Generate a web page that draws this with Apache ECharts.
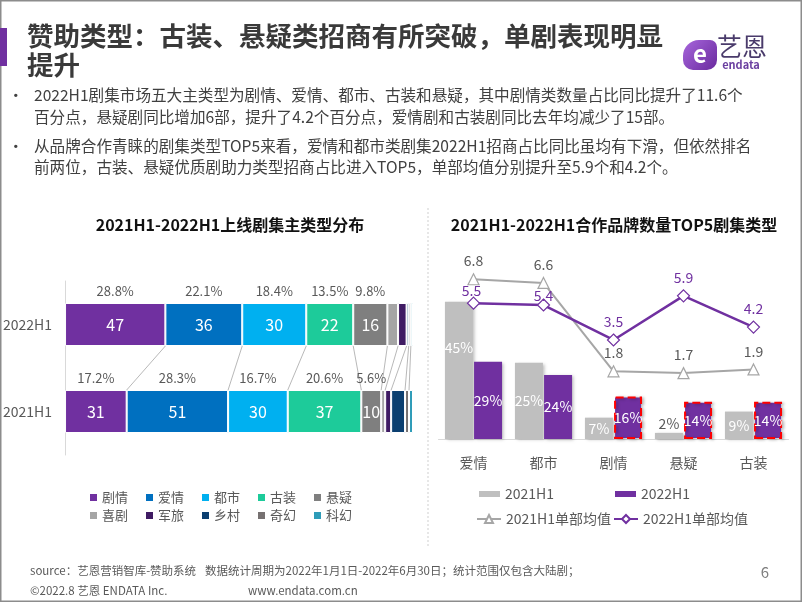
<!DOCTYPE html>
<html><head><meta charset="utf-8">
<script src="https://cdn.jsdelivr.net/npm/echarts@6/dist/echarts.min.js"></script>
<style>html,body{margin:0;padding:0;background:#fff}#c{width:802px;height:602px}</style>
</head><body><div id="c"></div>
<script>
const FONT = '"Noto Sans CJK SC", "Noto Sans", sans-serif';

// ---- Left chart data: series counts per genre ----
const yearCategories = ['2021H1', '2022H1'];
const genres = ['剧情', '爱情', '都市', '古装', '悬疑', '喜剧', '军旅', '乡村', '奇幻', '科幻'];
const counts2021 = [31, 51, 30, 37, 10, 2, 3, 7, 2, 2];
const counts2022 = [47, 36, 30, 22, 16, 5, 4, 1, 1, 1];
const shareLabels2021 = ['17.2%', '28.3%', '16.7%', '20.6%', '5.6%'];
const shareLabels2022 = ['28.8%', '22.1%', '18.4%', '13.5%', '9.8%'];

// ---- Right chart data ----
const topGenres = ['爱情', '都市', '剧情', '悬疑', '古装'];
const brandShare2021 = [45, 25, 7, 2, 9];
const brandShare2022 = [29, 24, 16, 14, 14];
const avgPerShow2021 = [6.8, 6.6, 1.8, 1.7, 1.9];
const avgPerShow2022 = [5.5, 5.4, 3.5, 5.9, 4.2];
const highlightedGenres = ['剧情', '悬疑', '古装'];

const genreColors = ['#7030A0', '#0070C0', '#00B0F0', '#1DCB9A', '#7F7F7F',
                     '#A5A5A5', '#3F1B63', '#0B3F70', '#767171', '#2E9CB8'];

const sum = a => a.reduce((s, v) => s + v, 0);
const total2021 = sum(counts2021), total2022 = sum(counts2022);
const pct = (v, t) => v / t * 100;
const cumulative = (arr, t) => { let s = 0; return arr.map(v => (s += v, s / t * 100)); };
const cum2021 = cumulative(counts2021, total2021);
const cum2022 = cumulative(counts2022, total2022);
const BAR_H = 43;

const stackSeries = genres.map((g, i) => ({
  name: g, type: 'bar', stack: 'share', xAxisIndex: 0, yAxisIndex: 0, barWidth: BAR_H,
  itemStyle: { color: genreColors[i], borderColor: '#fff', borderWidth: 1 },
  label: {
    show: i < 5, position: 'inside', color: '#fff', fontSize: 16, fontFamily: FONT,
    formatter: p => String(p.dataIndex === 0 ? counts2021[i] : counts2022[i])
  },
  emphasis: { disabled: true },
  data: [pct(counts2021[i], total2021), pct(counts2022[i], total2022)]
}));

const connectorData = genres.slice(0, -1).map((g, i) => [cum2022[i], 0, cum2021[i]]);
const connectorSeries = {
  type: 'custom', xAxisIndex: 0, yAxisIndex: 0, silent: true, z: 1,
  encode: { x: 0, y: 1 },
  renderItem: (params, api) => {
    const a = api.coord([api.value(0), 1]);
    const b = api.coord([api.value(2), 0]);
    return { type: 'line', shape: { x1: a[0], y1: a[1] + BAR_H / 2, x2: b[0], y2: b[1] - BAR_H / 2 },
             style: { stroke: '#a6a6a6', lineWidth: 0.8 } };
  },
  data: connectorData
};

const shareLabelData = [];
for (let i = 0; i < shareLabels2021.length; i++) {
  shareLabelData.push([cum2021[i] - pct(counts2021[i], total2021) / 2, 0, i]);
  shareLabelData.push([cum2022[i] - pct(counts2022[i], total2022) / 2, 1, i]);
}
const shareLabelSeries = {
  type: 'custom', xAxisIndex: 0, yAxisIndex: 0, silent: true, z: 3,
  encode: { x: 0, y: 1 },
  renderItem: (params, api) => {
    const yr = api.value(1), i = api.value(2);
    const p = api.coord([api.value(0), yr]);
    return { type: 'text', x: p[0], y: p[1] - BAR_H / 2 - 12,
      style: { text: yr === 1 ? shareLabels2022[i] : shareLabels2021[i], fill: '#595959',
               font: '13px ' + FONT, align: 'center', verticalAlign: 'middle' } };
  },
  data: shareLabelData
};

const barShadow = { shadowColor: 'rgba(0,0,0,0.25)', shadowBlur: 3, shadowOffsetX: 2, shadowOffsetY: 1 };

const series2021 = {
  name: '2021H1', type: 'bar', xAxisIndex: 1, yAxisIndex: 1, barWidth: 28, barGap: '4%',
  itemStyle: Object.assign({ color: '#BFBFBF' }, barShadow),
  emphasis: { disabled: true },
  data: brandShare2021.map((v, i) => ({
    value: v,
    label: v < 4 ? { position: 'top', distance: 2, color: '#595959' }
                 : (i === 0 ? { offset: [0, -23] } : {})
  })),
  label: { show: true, position: 'inside', color: '#fff', fontSize: 14, fontFamily: FONT, formatter: '{c}%' }
};
const series2022 = {
  name: '2022H1', type: 'bar', xAxisIndex: 1, yAxisIndex: 2, barWidth: 28,
  itemStyle: Object.assign({ color: '#7030A0' }, barShadow),
  emphasis: { disabled: true },
  data: brandShare2022.map((v, i) => ({
    value: v,
    itemStyle: highlightedGenres.includes(topGenres[i])
      ? { borderColor: '#FF0000', borderType: 'dashed', borderWidth: 2 } : {}
  })),
  label: { show: true, position: 'inside', color: '#fff', fontSize: 14, fontFamily: FONT, formatter: '{c}%' }
};
const lineAvg2021 = {
  name: '2021H1单部均值', type: 'line', xAxisIndex: 1, yAxisIndex: 3, data: avgPerShow2021,
  symbol: 'triangle', symbolSize: 11, z: 5,
  lineStyle: { color: '#A6A6A6', width: 2 },
  itemStyle: { color: '#fff', borderColor: '#A6A6A6', borderWidth: 1.2 },
  emphasis: { disabled: true },
  label: { show: true, position: 'top', distance: 5, color: '#595959', fontSize: 14, fontFamily: FONT }
};
const lineAvg2022 = {
  name: '2022H1单部均值', type: 'line', xAxisIndex: 1, yAxisIndex: 3,
  data: avgPerShow2022.map((v, i) => ({ value: v,
    label: i === 0 ? { offset: [-2, 6] } : (i === 1 ? { offset: [0, 9] } : {}) })),
  symbol: 'diamond', symbolSize: 12, z: 6,
  lineStyle: { color: '#7030A0', width: 2.5 },
  itemStyle: { color: '#fff', borderColor: '#7030A0', borderWidth: 1.2 },
  emphasis: { disabled: true },
  label: { show: true, position: 'top', distance: 5, color: '#7030A0', fontSize: 14, fontFamily: FONT }
};

const legendBase = { selectedMode: false, padding: 0, textStyle: { color: '#595959', fontFamily: FONT, fontSize: 14 } };
const leftLegend = (names, top) => Object.assign({}, legendBase, {
  data: names, left: 90, top: top, itemWidth: 7, itemHeight: 7, itemGap: 18, icon: 'rect',
  itemStyle: { borderWidth: 0 }, textStyle: { color: '#595959', fontFamily: FONT, fontSize: 13 }
});

const T = (text, x, y, font, fill, extra) => ({
  type: 'text', x, y, silent: true,
  style: Object.assign({ text, font, fill, verticalAlign: 'middle', align: 'left' }, extra || {})
});

const bodyFont = '15.6px ' + FONT;
const graphics = [
  { type: 'rect', shape: { x: 0.75, y: 0.75, width: 800.5, height: 600.5 }, style: { fill: 'none', stroke: '#8c8c8c', lineWidth: 1.5 }, silent: true },
  { type: 'rect', shape: { x: 0, y: 28, width: 7, height: 38 }, style: { fill: '#7030A0' }, silent: true },
  T('赞助类型：古装、悬疑类招商有所突破，单剧表现明显', 27, 36, 'bold 26.5px ' + FONT, '#3a3a3a'),
  T('提升', 27, 65, 'bold 26.5px ' + FONT, '#3a3a3a'),
  T('•', 8, 95, bodyFont, '#404040'),
  T('2022H1剧集市场五大主类型为剧情、爱情、都市、古装和悬疑，其中剧情类数量占比同比提升了11.6个', 34, 95, bodyFont, '#404040'),
  T('百分点，悬疑剧同比增加6部，提升了4.2个百分点，爱情剧和古装剧同比去年均减少了15部。', 34, 117, bodyFont, '#404040'),
  T('•', 8, 146, bodyFont, '#404040'),
  T('从品牌合作青睐的剧集类型TOP5来看，爱情和都市类剧集2022H1招商占比同比虽均有下滑，但依然排名', 34, 146, bodyFont, '#404040'),
  T('前两位，古装、悬疑优质剧助力类型招商占比进入TOP5，单部均值分别提升至5.9个和4.2个。', 34, 167, bodyFont, '#404040'),
  T('2021H1-2022H1上线剧集主类型分布', 230, 225, 'bold 16px ' + FONT, '#111', { align: 'center' }),
  T('2021H1-2022H1合作品牌数量TOP5剧集类型', 614, 225, 'bold 16px ' + FONT, '#111', { align: 'center' }),
  { type: 'line', shape: { x1: 428, y1: 208, x2: 428, y2: 548 }, style: { stroke: '#cfcfcf', lineWidth: 1, lineDash: [2, 2] }, silent: true },
  T('source：艺恩营销智库-赞助系统', 30, 571, '11.5px ' + FONT, '#595959'),
  T('数据统计周期为2022年1月1日-2022年6月30日；统计范围仅包含大陆剧；', 205, 571, '11.5px ' + FONT, '#595959'),
  T('©2022.8 艺恩 ENDATA Inc.', 30, 591, '11.5px ' + FONT, '#595959'),
  T('www.endata.com.cn', 248, 591, '11.5px ' + FONT, '#595959'),
  T('6', 765, 572, '15px ' + FONT, '#7f7f7f', { align: 'center' }),
  // logo
  { type: 'rect', silent: true, shape: { x: 683, y: 40, width: 34, height: 30, r: [16, 7, 10, 10] },
    style: { fill: new echarts.graphic.LinearGradient(0, 0, 1, 1, [{ offset: 0, color: '#a766dc' }, { offset: 1, color: '#6a2a9e' }]) } },
  T('e', 700, 54, 'bold 24px ' + FONT, '#fff', { align: 'center' }),
  T('艺恩', 742, 46, '25px ' + FONT, '#4a3b6b', { align: 'center' }),
  T('endata', 741, 65, 'bold 11px ' + FONT, '#6a3fa0', { align: 'center' })
];

const option = {
  backgroundColor: '#fff',
  animation: false,
  textStyle: { fontFamily: FONT },
  grid: [
    { left: 62, top: 281, width: 351, height: 174, containLabel: false },
    { left: 438.5, top: 250, width: 350, height: 189, containLabel: false }
  ],
  xAxis: [
    { type: 'value', gridIndex: 0, min: 0, max: 100, show: false },
    { type: 'category', gridIndex: 1, data: topGenres,
      axisLine: { lineStyle: { color: '#d9d9d9' } }, axisTick: { show: false },
      axisLabel: { color: '#595959', fontSize: 14, margin: 17, fontFamily: FONT } }
  ],
  yAxis: [
    { type: 'category', gridIndex: 0, data: yearCategories,
      axisLine: { lineStyle: { color: '#d9d9d9' } }, axisTick: { show: false },
      axisLabel: { color: '#595959', fontSize: 14, margin: 13, fontFamily: FONT } },
    { type: 'value', gridIndex: 1, min: 0, max: 62, show: false, splitLine: { show: false } },
    { type: 'value', gridIndex: 1, min: 0, max: 71, show: false, splitLine: { show: false } },
    { type: 'value', gridIndex: 1, min: -1.88, max: 8.39, show: false, splitLine: { show: false } }
  ],
  legend: [
    leftLegend(genres.slice(0, 5), 491),
    leftLegend(genres.slice(5), 509),
    Object.assign({}, legendBase, { data: ['2021H1'], left: 479, top: 487, itemWidth: 21, itemHeight: 6, icon: 'rect', itemStyle: { shadowBlur: 0, shadowOffsetX: 0, shadowOffsetY: 0 } }),
    Object.assign({}, legendBase, { data: ['2022H1'], left: 615, top: 487, itemWidth: 21, itemHeight: 6, icon: 'rect', itemStyle: { shadowBlur: 0, shadowOffsetX: 0, shadowOffsetY: 0 } }),
    Object.assign({}, legendBase, { data: ['2021H1单部均值'], left: 476, top: 512, itemWidth: 24, itemHeight: 10 }),
    Object.assign({}, legendBase, { data: ['2022H1单部均值'], left: 613, top: 512, itemWidth: 24, itemHeight: 10 })
  ],
  graphic: graphics,
  series: [connectorSeries, ...stackSeries, shareLabelSeries, series2021, series2022, lineAvg2021, lineAvg2022]
};

const chart = echarts.init(document.getElementById('c'), null, { renderer: 'canvas' });
chart.setOption(option);
</script>
</body></html>
